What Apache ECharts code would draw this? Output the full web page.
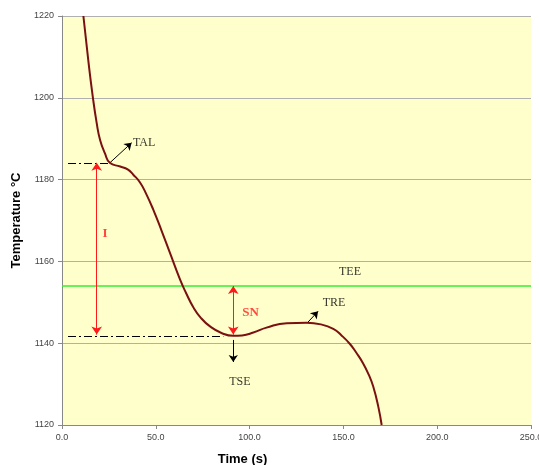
<!DOCTYPE html>
<html>
<head>
<meta charset="utf-8">
<script src="https://cdn.jsdelivr.net/npm/echarts@6/dist/echarts.min.js"></script>
<style>
 html, body { margin: 0; padding: 0; background: #fff; }
 #graph { width: 539px; height: 465px; }
</style>
</head>
<body>
<div id="graph"></div>
<script>
 // cooling curve
 var times = [11.4, 14, 16.4, 18.5, 20.3, 22.9, 25.5, 31, 35, 38, 41.6, 45, 48.7, 53, 57.6, 62.9, 66, 70, 74, 78.9, 85, 91.3, 96, 102, 109, 119.8, 130.4, 138, 144.6, 149, 153.5, 157, 160.6, 163.5, 165.9, 168.6, 170.4];
 var temps = [1220, 1209.2, 1200.3, 1193.8, 1189.7, 1186.4, 1184.1, 1183.2, 1182.5, 1181.2, 1179.3, 1176.4, 1172.6, 1167.6, 1162, 1155.6, 1152.4, 1148.8, 1146.2, 1144.1, 1142.5, 1141.8, 1141.9, 1142.6, 1143.8, 1144.9, 1145, 1144.6, 1143.5, 1141.9, 1139.8, 1137.6, 1135.0, 1132.3, 1129.4, 1124.5, 1120];

 var teeLevel = 1154;
 var talLevel = 1184.1;
 var tseLevel = 1141.8;

 var xTicks = [0, 50, 100, 150, 200, 250];
 var yTicks = [1120, 1140, 1160, 1180, 1200, 1220];

 // labels: [t, T, text]
 var blackLabels = [[43.8, 1188.9, 'TAL'], [153.5, 1157.4, 'TEE'], [145, 1149.8, 'TRE'], [94.8, 1130.6, 'TSE']];
 var redLabels = [[22.9, 1166.9, 'I'], [100.5, 1147.5, 'SN']];

 var curve = [];
 for (var i = 0; i < times.length; i++) {
  curve.push([times[i], temps[i]]);
 }

 function seg(a, b) {
  return [{ coord: a }, { coord: b }];
 }

 var dom = document.getElementById("graph");
 var myChart = echarts.init(dom);
 var option = {
  animation: false,
  grid: {
   left: 62, right: 8, top: 16, bottom: 40,
   outerBoundsMode: 'none',
   containLabel: false,
   show: true,
   backgroundColor: '#FFFFCC',
   borderWidth: 0
  },
  xAxis: {
   type: 'value',
   min: xTicks[0], max: xTicks[xTicks.length - 1], interval: 50,
   name: 'Time (s)',
   nameLocation: 'middle',
   nameGap: 28,
   nameTextStyle: { fontFamily: 'Liberation Sans', fontWeight: 'bold', fontSize: 13, color: '#000', padding: [0, 108, 0, 0] },
   axisLine: { lineStyle: { color: '#888' } },
   axisTick: { lineStyle: { color: '#888' }, length: 4 },
   axisLabel: { fontFamily: 'Liberation Sans', fontSize: 9, color: '#444', formatter: function(v) { return v.toFixed(1); } },
   splitLine: { show: false }
  },
  yAxis: {
   type: 'value',
   min: yTicks[0], max: yTicks[yTicks.length - 1], interval: 20,
   name: 'Temperature \u00b0C',
   nameLocation: 'middle',
   nameGap: 28,
   nameTextStyle: { fontFamily: 'Liberation Sans', fontWeight: 'bold', fontSize: 13, color: '#000' },
   axisLine: { show: true, lineStyle: { color: '#888' } },
   axisTick: { show: true, lineStyle: { color: '#888' }, length: 4 },
   axisLabel: { fontFamily: 'Liberation Sans', fontSize: 9, color: '#444', formatter: function(v) { return String(v); } },
   splitLine: { lineStyle: { color: '#b0b0b0' } }
  },
  series: [
   {
    name: 'TEE',
    type: 'line',
    data: [[xTicks[0], teeLevel], [xTicks[xTicks.length - 1], teeLevel]],
    symbol: 'none',
    lineStyle: { color: '#33ee33', width: 1.5 },
    z: 3
   },
   {
    name: 'guides',
    type: 'line',
    data: [],
    markLine: {
     silent: true,
     symbol: 'none',
     label: { show: false },
     lineStyle: { color: '#000', width: 1, type: [8, 3, 2, 3] },
     data: [
      seg([3.2, talLevel], [25.5, talLevel]),
      seg([3.2, tseLevel], [86, tseLevel])
     ]
    },
    z: 4
   },
   {
    name: 'redArrows',
    type: 'line',
    data: [],
    markLine: {
     silent: true,
     symbol: ['arrow', 'arrow'],
     symbolSize: 8,
     label: { show: false },
     lineStyle: { color: '#ff1a1a', width: 1, type: 'solid' },
     data: [
      seg([18.5, talLevel], [18.5, tseLevel + 0.3]),
      seg([91.3, teeLevel], [91.3, tseLevel + 0.3])
     ]
    },
    z: 5
   },
   {
    name: 'blackArrows',
    type: 'line',
    data: [],
    markLine: {
     silent: true,
     symbol: ['none', 'arrow'],
     symbolSize: 7,
     label: { show: false },
     lineStyle: { color: '#000', width: 1, type: 'solid' },
     data: [
      seg([25.5, talLevel], [37.1, 1189]),
      seg([130.6, 1144.9], [136.5, 1147.8]),
      seg([91.3, 1140.8], [91.3, 1135.4])
     ]
    },
    z: 5
   },
   {
    name: 'curve',
    type: 'line',
    data: curve,
    smooth: 0.5,
    symbol: 'none',
    lineStyle: { color: '#7a1010', width: 2 },
    z: 6
   },
   {
    name: 'labels',
    type: 'scatter',
    symbolSize: 0,
    data: blackLabels,
    label: {
     show: true,
     position: 'inside',
     formatter: function(p) { return p.data[2]; },
     fontFamily: 'Liberation Serif',
     fontSize: 12,
     color: '#000'
    },
    z: 7
   },
   {
    name: 'redLabels',
    type: 'scatter',
    symbolSize: 0,
    data: redLabels,
    label: {
     show: true,
     position: 'inside',
     formatter: function(p) { return p.data[2]; },
     fontFamily: 'Liberation Serif',
     fontWeight: 'bold',
     fontSize: 13,
     color: '#ff1a1a'
    },
    z: 7
   }
  ]
 };
 if (option && typeof option === "object") {
  myChart.setOption(option, true);
 }
</script>
</body>
</html>
